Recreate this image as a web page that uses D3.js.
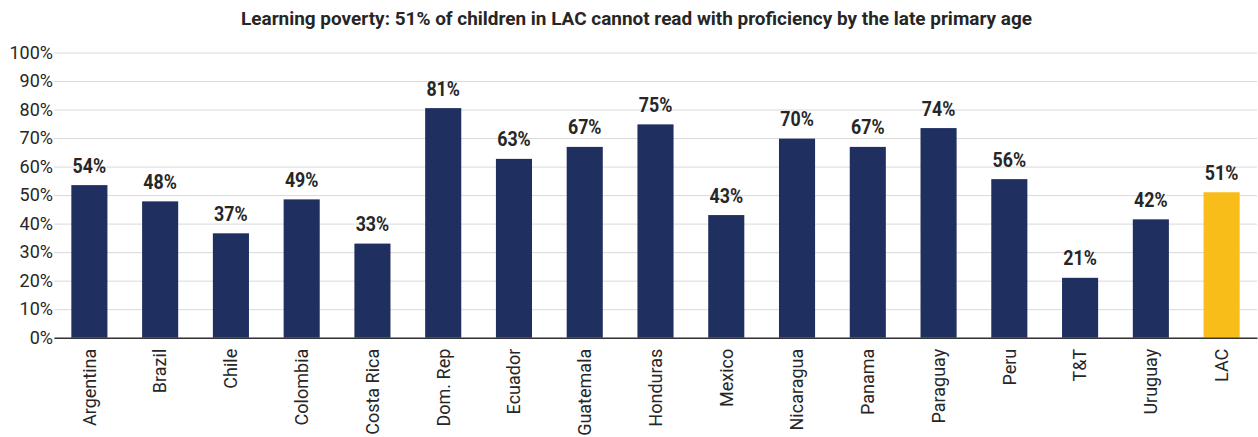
<!DOCTYPE html>
<html><head><meta charset="utf-8">
<script src="https://cdn.jsdelivr.net/npm/d3@7"></script>
<style>
html,body{margin:0;padding:0;background:#fff;}
svg{display:block;font-family:Roboto,"Noto Sans",sans-serif;}
</style></head>
<body><svg id="c" width="1258" height="437"></svg>
<script>
const categories = ["Argentina","Brazil","Chile","Colombia","Costa Rica","Dom. Rep","Ecuador","Guatemala","Honduras","Mexico","Nicaragua","Panama","Paraguay","Peru","T&T","Uruguay","LAC"];
const values = [0.535, 0.478, 0.366, 0.485, 0.33, 0.805, 0.627, 0.669, 0.748, 0.43, 0.698, 0.669, 0.735, 0.556, 0.21, 0.415, 0.51];
const highlight = ["LAC"];
const yTicks = [0,0.1,0.2,0.3,0.4,0.5,0.6,0.7,0.8,0.9,1.0];
const title = "Learning poverty: 51% of children in LAC cannot read with proficiency by the late primary age";

const svg = d3.select("#c");
const m = {left:54, right:1257, top:52.5, bottom:337.7};
const x = d3.scaleBand().domain(categories).range([m.left, m.right]).paddingInner(0.49).paddingOuter(0.245);
const y = d3.scaleLinear().domain([0,1]).range([m.bottom, m.top]);

// title
svg.append("text").attr("x", 636.5).attr("y", 25).attr("text-anchor","middle")
  .attr("font-size", 19).attr("font-weight", 700).attr("fill", "#262626").text(title)
  .attr("textLength", 791).attr("lengthAdjust", "spacingAndGlyphs");

// gridlines
const yAxis = d3.axisLeft(y).tickValues(yTicks).tickFormat(d3.format(".0%")).tickSize(-(m.right - m.left)).tickPadding(1);
const gy = svg.append("g").attr("transform", `translate(${m.left},0)`).call(yAxis);
gy.select(".domain").remove();
gy.selectAll(".tick line").attr("stroke", "#d9d9d9").attr("stroke-width", 1);
gy.selectAll(".tick text").attr("font-size", 18).attr("fill", "#262626").attr("font-family", "Roboto");

// bars
svg.append("g").selectAll("rect").data(categories).join("rect")
  .attr("x", d => x(d)).attr("width", x.bandwidth())
  .attr("y", (d,i) => y(values[i])).attr("height", (d,i) => y(0) - y(values[i]))
  .attr("fill", d => highlight.includes(d) ? "#F9BD19" : "#1F2F5F");

// value labels
const vl = svg.append("g").selectAll("text").data(categories).join("text")
  .attr("x", d => x(d) + x.bandwidth()/2).attr("y", (d,i) => y(values[i]) - 12.5)
  .attr("text-anchor", "middle").attr("font-size", 20).attr("font-weight", 700).attr("fill", "#262626")
  .text((d,i) => d3.format(".0%")(values[i]));
vl.each(function(){ const w = this.getComputedTextLength(); d3.select(this).attr("textLength", w*0.89).attr("lengthAdjust","spacingAndGlyphs"); });

// x axis
const xAxis = d3.axisBottom(x).tickSize(0).tickPadding(0);
const gx = svg.append("g").attr("transform", `translate(0,${m.bottom})`).call(xAxis);
gx.select(".domain").attr("stroke", "#333").attr("stroke-width", 1.5);
gx.selectAll(".tick text").attr("font-size", 18).attr("fill", "#262626").attr("font-family", "Roboto")
  .attr("text-anchor", "end").attr("transform", "rotate(-90)")
  .attr("x", -11).attr("y", 0).attr("dy", "0.35em");
</script>
</body></html>
